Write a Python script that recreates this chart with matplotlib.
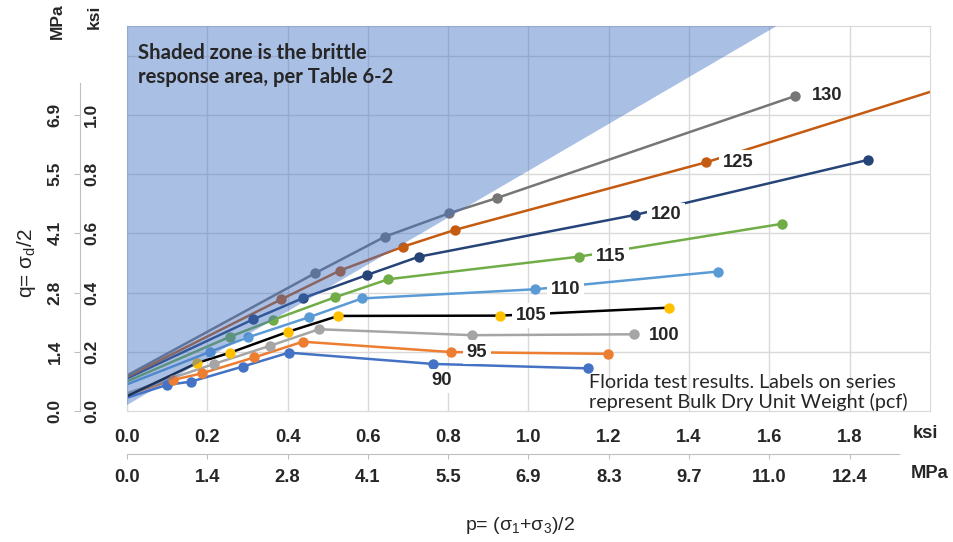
import matplotlib
matplotlib.use("Agg")
import matplotlib.pyplot as plt
from matplotlib import font_manager

# --- data (ksi) ---------------------------------------------------------
weights = [90, 95, 100, 105, 110, 115, 120, 125, 130]

p_90 = [0.0, 0.099, 0.159, 0.288, 0.403, 0.761, 1.147]
q_90 = [0.045, 0.088, 0.099, 0.150, 0.197, 0.159, 0.144]
p_95 = [0.0, 0.115, 0.186, 0.317, 0.438, 0.807, 1.197]
q_95 = [0.055, 0.105, 0.127, 0.181, 0.234, 0.199, 0.193]
p_100 = [0.0, 0.217, 0.356, 0.478, 0.860, 1.262]
q_100 = [0.060, 0.159, 0.220, 0.276, 0.256, 0.259]
p_105 = [0.0, 0.174, 0.257, 0.400, 0.526, 0.930, 1.351]
q_105 = [0.050, 0.162, 0.197, 0.267, 0.321, 0.322, 0.349]
p_110 = [0.0, 0.207, 0.302, 0.454, 0.585, 1.016, 1.472]
q_110 = [0.090, 0.200, 0.249, 0.317, 0.380, 0.411, 0.471]
p_115 = [0.0, 0.257, 0.363, 0.518, 0.651, 1.125, 1.631]
q_115 = [0.100, 0.251, 0.307, 0.384, 0.445, 0.521, 0.632]
p_120 = [0.0, 0.315, 0.438, 0.597, 0.727, 1.265, 1.846]
q_120 = [0.110, 0.310, 0.381, 0.459, 0.521, 0.662, 0.848]
p_125 = [0.0, 0.384, 0.530, 0.688, 0.818, 1.443, 2.100]
q_125 = [0.115, 0.377, 0.474, 0.555, 0.612, 0.840, 1.120]
p_130 = [0.0, 0.468, 0.643, 0.803, 0.921, 1.665]
q_130 = [0.120, 0.465, 0.589, 0.668, 0.719, 1.064]

p_series = [p_90, p_95, p_100, p_105, p_110, p_115, p_120, p_125, p_130]
q_series = [q_90, q_95, q_100, q_105, q_110, q_115, q_120, q_125, q_130]

line_colors = ['#4472C4', '#ED7D31', '#A5A5A5', '#000000', '#5B9BD5',
               '#70AD47', '#264478', '#C55A11', '#767676']
marker_colors = ['#4472C4', '#ED7D31', '#A5A5A5', '#FFC000', '#5B9BD5',
                 '#70AD47', '#264478', '#C55A11', '#767676']

# series label anchor points
label_p = [0.783, 0.871, 1.337, 1.006, 1.092, 1.204, 1.342, 1.522, 1.743]
label_q = [0.102, 0.199, 0.256, 0.322, 0.411, 0.521, 0.662, 0.840, 1.064]

# brittle zone outline
brittle_p = [0.0, 1.618, 0.0]
brittle_q = [0.02, 1.30, 1.30]

# axis ticks
p_ticks = [0.0, 0.2, 0.4, 0.6, 0.8, 1.0, 1.2, 1.4, 1.6, 1.8]
p_ksi_labels = ['0.0', '0.2', '0.4', '0.6', '0.8', '1.0', '1.2', '1.4', '1.6', '1.8']
p_mpa_labels = ['0.0', '1.4', '2.8', '4.1', '5.5', '6.9', '8.3', '9.7', '11.0', '12.4']
q_grid = [0.2, 0.4, 0.6, 0.8, 1.0, 1.2]
q_ticks = [0.0, 0.2, 0.4, 0.6, 0.8, 1.0]
q_ksi_labels = ['0.0', '0.2', '0.4', '0.6', '0.8', '1.0']
q_mpa_labels = ['0.0', '1.4', '2.8', '4.1', '5.5', '6.9']

plt.rcParams['mathtext.fontset'] = 'custom'
plt.rcParams['mathtext.rm'] = 'Liberation Sans'
plt.rcParams['mathtext.it'] = 'Liberation Sans:italic'

# narrow bold face for the horizontal labels, if there is one
installed = {f.name for f in font_manager.fontManager.ttflist}
if 'Liberation Sans Narrow' in installed:
    NARROW = ['Liberation Sans Narrow', 'DejaVu Sans']
    NSIZE = 14.5
else:
    NARROW = ['Liberation Sans', 'DejaVu Sans']
    NSIZE = 13.2
ARIAL = ['Liberation Sans', 'DejaVu Sans']
LATO = ['Lato', 'DejaVu Sans']
TXT = '#262626'
AXC = '#BFBFBF'
GRID = '#D9D9D9'

W, H = 954, 542
fig = plt.figure(figsize=(W / 100, H / 100), dpi=100)


def fx(px):
    return px / W


def fy(py):
    return 1 - py / H


# --- main plot ----------------------------------------------------------
ax = fig.add_axes([fx(127), fy(411), fx(930) - fx(127), fy(26) - fy(411)])
ax.set_xlim(0, 2.0)
ax.set_ylim(0, 1.3)
ax.set_xticks(p_ticks)
ax.set_xticklabels(p_ksi_labels, fontfamily=NARROW, fontweight='bold',
                   fontsize=NSIZE, color=TXT)
ax.set_yticks(q_grid)
ax.tick_params(axis='both', length=0)
ax.tick_params(axis='x', pad=13)
ax.tick_params(axis='y', labelleft=False)
ax.grid(True, color=GRID, lw=1)
ax.set_axisbelow(True)
for s in ax.spines.values():
    s.set_color(GRID)

for p, q, lc, mc in zip(p_series, q_series, line_colors, marker_colors):
    ax.plot(p, q, color=lc, lw=1.8, zorder=2)
    ax.plot(p[1:], q[1:], 'o', color=mc, ms=7.5, mew=0, zorder=2.5)

ax.fill(brittle_p, brittle_q, color='#4472C4', alpha=0.45, lw=0, zorder=3)

for w, lp, lq in zip(weights, label_p, label_q):
    ax.text(lp, lq, str(w), ha='center', va='center', fontfamily=NARROW,
            fontweight='bold', fontsize=NSIZE, color=TXT, zorder=4,
            bbox=dict(boxstyle='square,pad=0.2', fc='white', ec='none'))

fig.text(fx(138), fy(83), 'Shaded zone is the brittle\nresponse area, per Table 6-2',
         ha='left', va='baseline', fontfamily=LATO, fontweight='bold',
         fontsize=14.6, color=TXT, linespacing=1.25, zorder=5)
fig.text(fx(589), fy(408), 'Florida test results. Labels on series\nrepresent Bulk Dry Unit Weight (pcf)',
         ha='left', va='baseline', fontfamily=LATO, fontsize=14.2,
         color=TXT, linespacing=1.15, zorder=5)

# --- left q axis (MPa left of spine, ksi right of spine) ----------------
ay = fig.add_axes([fx(80), fy(411), 0.0001, fy(26) - fy(411)])
ay.set_ylim(0, 1.3)
ay.patch.set_visible(False)
ay.set_xticks([])
for k in ['top', 'right', 'bottom']:
    ay.spines[k].set_visible(False)
ay.spines['left'].set_color(AXC)
ay.spines['left'].set_bounds(0, 1.108)
ay.set_yticks(q_ticks)
ay.set_yticklabels(q_mpa_labels, rotation=90, va='center', fontfamily=ARIAL,
                   fontweight='bold', fontsize=12.5, color=TXT)
ay.tick_params(axis='y', direction='out', length=4.5, color=AXC, pad=8)

ay2 = fig.add_axes([fx(80), fy(411), 0.0001, fy(26) - fy(411)])
ay2.set_ylim(0, 1.3)
ay2.patch.set_visible(False)
ay2.set_xticks([])
for s in ay2.spines.values():
    s.set_visible(False)
ay2.set_yticks(q_ticks)
ay2.set_yticklabels(q_ksi_labels, rotation=90, va='center', fontfamily=ARIAL,
                    fontweight='bold', fontsize=12.5, color=TXT)
ay2.tick_params(axis='y', left=False, labelleft=False, right=False,
                labelright=True, length=0, pad=3)

# --- lower p axis in MPa ------------------------------------------------
am = fig.add_axes([fx(127), fy(454), fx(930) - fx(127), 0.0001])
am.set_xlim(0, 2.0)
am.patch.set_visible(False)
am.set_yticks([])
for k in ['top', 'right', 'left']:
    am.spines[k].set_visible(False)
am.spines['bottom'].set_color(AXC)
am.spines['bottom'].set_bounds(0, 1.924)
am.set_xticks(p_ticks)
am.set_xticklabels(p_mpa_labels, fontfamily=NARROW, fontweight='bold',
                   fontsize=NSIZE, color=TXT)
am.tick_params(axis='x', direction='out', length=3.5, color=AXC, pad=7)

# --- unit and axis titles -----------------------------------------------
fig.text(fx(913), fy(433), 'ksi', ha='left', va='center', fontfamily=NARROW,
         fontweight='bold', fontsize=NSIZE, color=TXT)
fig.text(fx(911), fy(473), 'MPa', ha='left', va='center', fontfamily=NARROW,
         fontweight='bold', fontsize=NSIZE, color=TXT)
fig.text(fx(57), fy(21), 'MPa', rotation=90, ha='center', va='center',
         fontfamily=ARIAL, fontweight='bold', fontsize=12.5, color=TXT)
fig.text(fx(94), fy(17), 'ksi', rotation=90, ha='center', va='center',
         fontfamily=ARIAL, fontweight='bold', fontsize=12.5, color=TXT)
fig.text(fx(27), fy(263), r'q= σ$_{\mathrm{d}}$/2', rotation=90, ha='center',
         va='center', fontfamily=ARIAL, fontsize=15, color=TXT)
fig.text(fx(520), fy(525), r'p= (σ$_1$+σ$_3$)/2', ha='center', va='center',
         fontfamily=ARIAL, fontsize=14, color=TXT)

fig.savefig('out.png', dpi=100, facecolor='white')
